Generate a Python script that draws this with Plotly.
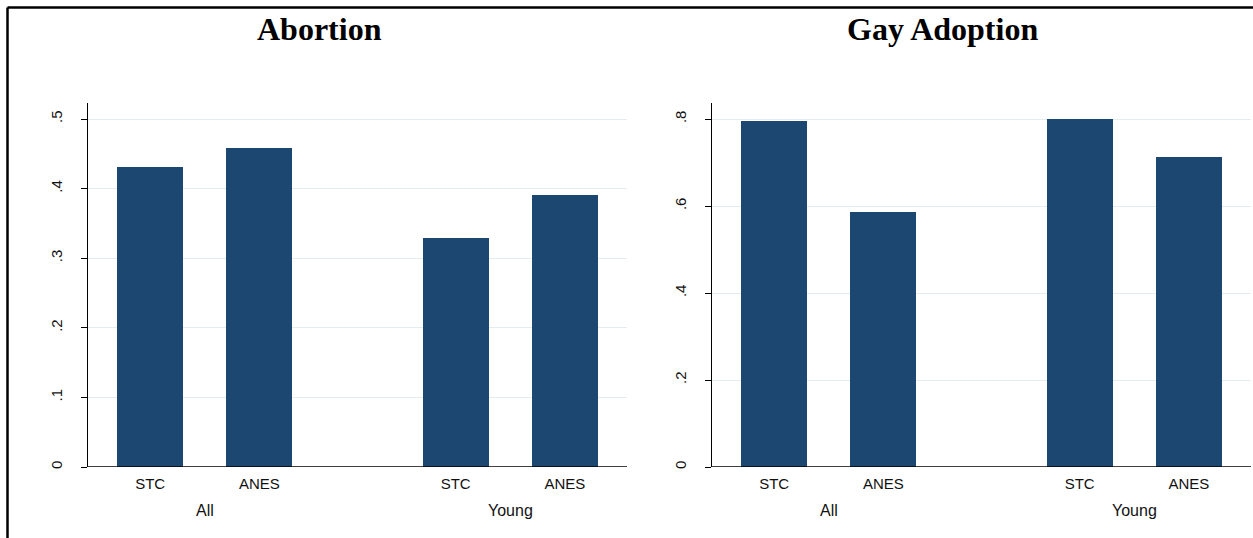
import plotly.graph_objects as go

# Shares by sample group and data source
groups = ["All", "Young"]
sources = ["STC", "ANES"]
abortion = [0.431, 0.458, 0.329, 0.391]      # All-STC, All-ANES, Young-STC, Young-ANES
gay_adoption = [0.795, 0.586, 0.800, 0.713]

abortion_ticks = [0, 0.1, 0.2, 0.3, 0.4, 0.5]
abortion_ticktext = ["0", ".1", ".2", ".3", ".4", ".5"]
adoption_ticks = [0, 0.2, 0.4, 0.6, 0.8]
adoption_ticktext = ["0", ".2", ".4", ".6", ".8"]

W, H = 1253, 538
BAR = "#1c4770"
GRID = "#e3ecef"
FONT = "Liberation Sans, Arial, sans-serif"

# bar positions: unit spacing within a group, wider gap between groups
GROUP_STEP = 2.8
positions = [g * GROUP_STEP + s for g in range(len(groups)) for s in range(len(sources))]
labels = [s for _ in groups for s in sources]
group_centers = [g * GROUP_STEP + (len(sources) - 1) / 2 for g in range(len(groups))]
x_range = [-0.57, GROUP_STEP + 1 + 0.57]

fig = go.Figure()
fig.add_trace(go.Bar(x=positions, y=abortion, width=0.605, marker=dict(color=BAR, line=dict(width=0)),
                     xaxis="x", yaxis="y", showlegend=False))
fig.add_trace(go.Bar(x=positions, y=gay_adoption, width=0.605, marker=dict(color=BAR, line=dict(width=0)),
                     xaxis="x2", yaxis="y2", showlegend=False))

y_dom = [1 - 467 / H, 1 - 103 / H]
xcommon = dict(range=x_range, tickvals=positions, ticktext=labels, showgrid=False, zeroline=False,
               showline=False, ticks="", tickfont=dict(family=FONT, size=15, color="#111"),
               ticklabelstandoff=6, automargin=False, fixedrange=True)
ycommon = dict(showgrid=True, gridcolor=GRID, gridwidth=1, zeroline=False, showline=True,
               linecolor="black", linewidth=1.3, ticks="outside", ticklen=6, tickwidth=1.1,
               tickcolor="black", tickangle=-90, tickfont=dict(family=FONT, size=15, color="#111"),
               ticklabelstandoff=13, automargin=False, fixedrange=True)

fig.update_layout(
    width=W, height=H,
    margin=dict(l=0, r=0, t=0, b=0),
    paper_bgcolor="white", plot_bgcolor="white",
    bargap=0,
    xaxis=dict(domain=[88 / W, 627 / W], anchor="y", **xcommon),
    yaxis=dict(domain=y_dom, anchor="x", range=[0, 0.523], tickvals=abortion_ticks,
               ticktext=abortion_ticktext, **ycommon),
    xaxis2=dict(domain=[712 / W, 1251 / W], anchor="y2", **xcommon),
    yaxis2=dict(domain=y_dom, anchor="x2", range=[0, 0.837], tickvals=adoption_ticks,
                ticktext=adoption_ticktext, **ycommon),
)

# baseline under the bars
for xa, ya in [("x", "y"), ("x2", "y2")]:
    fig.add_shape(type="line", xref=f"{xa} domain", yref=ya, x0=0, x1=1, y0=0, y1=0,
                  line=dict(color="black", width=1.3))

# group labels beneath the source labels
for xa in ["x", "x2"]:
    for g, c in zip(groups, group_centers):
        fig.add_annotation(x=c, xref=xa, y=1 - 510 / H, yref="paper", text=g, showarrow=False,
                           font=dict(family=FONT, size=16, color="#111"), xanchor="center", yanchor="middle")

# panel titles
for text, px in [("Abortion", 319), ("Gay Adoption", 942)]:
    fig.add_annotation(x=px / W, y=1 - 29 / H, xref="paper", yref="paper", text=f"<b>{text}</b>",
                       showarrow=False, xanchor="center", yanchor="middle",
                       font=dict(family="Liberation Serif, Times New Roman, serif", size=32, color="black"))

# outer frame (top and left edges)
fig.add_shape(type="line", xref="paper", yref="paper", x0=7.5 / W, x1=1, y0=1 - 7.5 / H, y1=1 - 7.5 / H,
              line=dict(color="black", width=2.5))
fig.add_shape(type="line", xref="paper", yref="paper", x0=7.5 / W, x1=7.5 / W, y0=0, y1=1 - 7.5 / H,
              line=dict(color="black", width=2.5))

fig.write_html("out.html", config=dict(displayModeBar=False))
